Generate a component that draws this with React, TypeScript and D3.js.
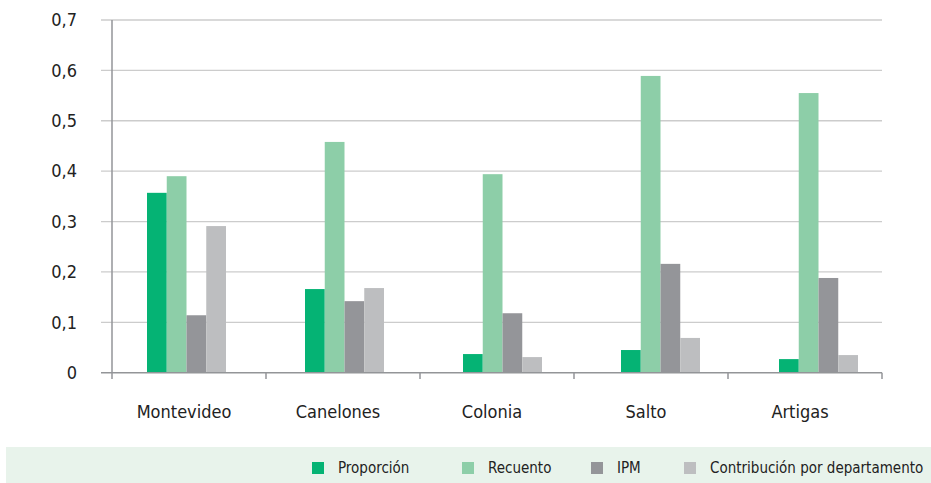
import React from "react";
import * as d3 from "d3";

const categories = ["Montevideo", "Canelones", "Colonia", "Salto", "Artigas"];
const seriesNames = ["Proporción", "Recuento", "IPM", "Contribución por departamento"];
const proporcion = [0.357, 0.166, 0.037, 0.045, 0.027];
const recuento = [0.390, 0.458, 0.394, 0.589, 0.555];
const ipm = [0.114, 0.142, 0.118, 0.216, 0.188];
const contribucion = [0.291, 0.168, 0.031, 0.069, 0.035];
const yTicks = [0, 0.1, 0.2, 0.3, 0.4, 0.5, 0.6, 0.7];
const colors = ["#05b374", "#8dcea8", "#949599", "#bdbec0"];

const W = 931, H = 483;
const FONT = "'Liberation Sans Narrow', 'DejaVu Sans Condensed', 'Roboto', sans-serif";

export default function App() {
  const series = [proporcion, recuento, ipm, contribucion];
  const y = d3.scaleLinear().domain([0, 0.7]).range([372.7, 20]);
  const xTick = d3.scaleBand().domain(categories).range([112, 882]);
  const xGroup = d3.scaleBand().domain(categories).range([107.5, 897.5]).paddingInner(0.5).paddingOuter(0.25);
  const xBar = d3.scaleBand().domain(seriesNames).range([0, xGroup.bandwidth()]);
  const fmt = (v: number) => (v === 0 ? "0" : d3.format(".1f")(v).replace(".", ","));

  const legendX = [312, 462, 591, 684];

  return (
    <svg width={W} height={H} style={{ position: "absolute", left: 0, top: 0, background: "#fff" }}>
      {yTicks.map((t) => (
        <g key={t}>
          {t > 0 && <line x1={101} x2={882} y1={y(t)} y2={y(t)} stroke="#cccccc" strokeWidth={1.3} />}
          <text x={77} y={y(t)} dy="0.35em" textAnchor="end" fontFamily={FONT} fontSize={18} fill="#222">
            {fmt(t)}
          </text>
        </g>
      ))}
      {categories.map((c, i) => (
        <g key={c}>
          {series.map((s, j) => (
            <rect
              key={j}
              x={(xGroup(c) as number) + (xBar(seriesNames[j]) as number)}
              width={xBar.bandwidth()}
              y={y(s[i])}
              height={y(0) - y(s[i])}
              fill={colors[j]}
            />
          ))}
        </g>
      ))}
      <line x1={112} x2={112} y1={20} y2={379} stroke="#939598" strokeWidth={1.5} />
      <line x1={101} x2={882} y1={y(0)} y2={y(0)} stroke="#939598" strokeWidth={1.5} />
      {categories.map((c) => (
        <line key={c} x1={(xTick(c) as number) + xTick.bandwidth()} x2={(xTick(c) as number) + xTick.bandwidth()} y1={y(0)} y2={379} stroke="#939598" strokeWidth={1.5} />
      ))}
      {categories.map((c) => (
        <text key={c} x={(xTick(c) as number) + xTick.bandwidth() / 2 - 5} y={418} textAnchor="middle" fontFamily={FONT} fontSize={18} fill="#222">
          {c}
        </text>
      ))}
      <rect x={6} y={447} width={925} height={36} fill="#e8f3eb" />
      {seriesNames.map((n, j) => (
        <g key={n}>
          <rect x={legendX[j]} y={462} width={12} height={12} fill={colors[j]} />
          <text x={legendX[j] + 26} y={468} dy="0.35em" fontFamily={FONT} fontSize={15} fill="#222">
            {n}
          </text>
        </g>
      ))}
    </svg>
  );
}
